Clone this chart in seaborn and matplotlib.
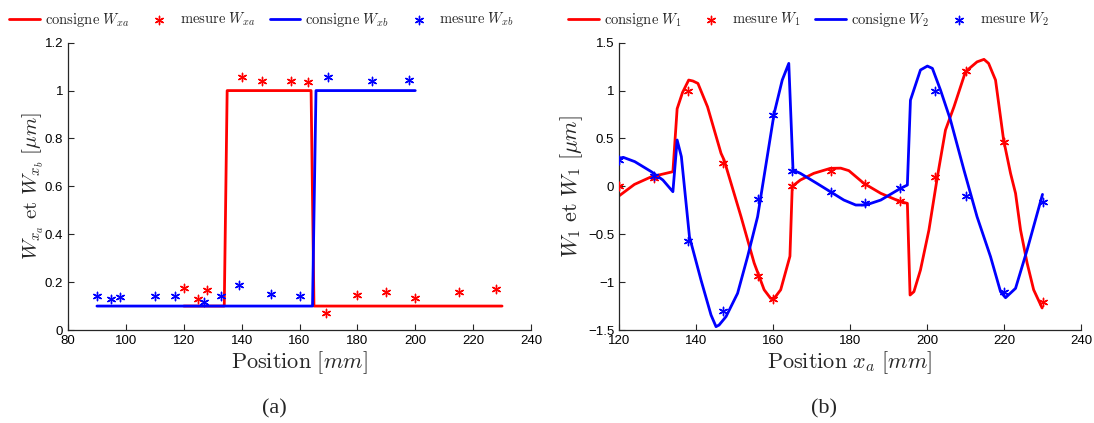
import matplotlib
matplotlib.use('Agg')
import matplotlib.pyplot as plt
import seaborn as sns
from matplotlib.ticker import FuncFormatter

# panel (a): step set-points and measures
xa_cons_x = [120, 134, 135, 164, 165, 230]
xa_cons_y = [0.1, 0.1, 1.0, 1.0, 0.1, 0.1]
xb_cons_x = [90, 164.5, 165.7, 200]
xb_cons_y = [0.1, 0.1, 1.0, 1.0]
xa_mes_x = [120, 125, 128, 140, 147, 157, 163, 169, 180, 190, 200, 215, 228]
xa_mes_y = [0.175, 0.13, 0.167, 1.055, 1.04, 1.04, 1.035, 0.07, 0.146, 0.157, 0.135, 0.157, 0.17]
xb_mes_x = [90, 95, 98, 110, 117, 127, 133, 139, 150, 160, 170, 185, 198]
xb_mes_y = [0.143, 0.128, 0.137, 0.143, 0.14, 0.115, 0.14, 0.187, 0.15, 0.143, 1.055, 1.04, 1.045]

# panel (b): W1 / W2 set-points and measures
w1_cons_x = [120, 124, 128.4, 134, 135.1, 136.5, 138.1, 139.2, 140.5, 143, 146.5, 147.3, 151.7,
             155.1, 157.7, 159.4, 160.3, 162, 164.4, 165, 167.1, 170.6, 174.9, 177.6, 179.7,
             183.6, 188, 193.1, 194.9, 195.6, 196.6, 198.3, 200.5, 202.7, 204.8, 207, 210,
             213, 214.8, 216, 217.8, 219.9, 221.7, 223, 224.3, 226, 227.7, 229.9]
w1_cons_y = [-0.1, 0.02, 0.1, 0.153, 0.81, 0.98, 1.11, 1.10, 1.075, 0.83, 0.345, 0.275, -0.317,
             -0.8, -1.08, -1.17, -1.17, -1.08, -0.73, 0.0, 0.066, 0.136, 0.188, 0.19, 0.164,
             0.031, -0.073, -0.16, -0.177, -1.135, -1.1, -0.874, -0.456, 0.1, 0.588, 0.83, 1.197,
             1.3, 1.326, 1.284, 1.11, 0.484, 0.136, -0.073, -0.456, -0.8, -1.08, -1.27]
w2_cons_x = [120, 121.1, 124.1, 128.4, 131.4, 134, 135.1, 136.2, 138.3, 141.3, 143.9, 145.2, 146,
             147.8, 150.8, 153.4, 156, 158.5, 160.3, 162.4, 164.1, 165.2, 167.1, 171.4, 174.9,
             178.4, 181.5, 184.1, 188, 192.7, 194.9, 195.7, 198.3, 200.1, 201.4, 203.5, 206.1,
             209.6, 213, 216.5, 219.1, 220.4, 223, 226, 230]
w2_cons_y = [0.292, 0.303, 0.258, 0.153, 0.066, -0.056, 0.484, 0.31, -0.526, -0.978, -1.343, -1.465,
             -1.448, -1.36, -1.117, -0.734, -0.317, 0.31, 0.762, 1.11, 1.284, 0.17, 0.136, 0.031,
             -0.056, -0.143, -0.195, -0.195, -0.143, -0.031, 0.014, 0.9, 1.215, 1.256, 1.232,
             1.006, 0.693, 0.17, -0.317, -0.734, -1.1, -1.163, -1.065, -0.665, -0.084]
w1_mes_x = [120, 129, 138, 147, 156, 160, 165, 175, 184, 193, 202, 210, 220, 230]
w1_mes_y = [0.0, 0.085, 1.0, 0.24, -0.936, -1.176, 0.007, 0.164, 0.024, -0.153, 0.1, 1.204, 0.466, -1.204]
w2_mes_x = [120, 129, 138, 147, 156, 160, 165, 175, 184, 193, 202, 210, 220, 230]
w2_mes_y = [0.275, 0.108, -0.571, -1.3, -0.136, 0.745, 0.164, -0.056, -0.178, -0.014, 1.0, -0.1, -1.107, -0.16]

sns.set_style('ticks')
plt.rcParams['font.family'] = ['Liberation Sans', 'DejaVu Sans']
plt.rcParams['mathtext.fontset'] = 'cm'
plt.rcParams['xtick.direction'] = 'in'
plt.rcParams['ytick.direction'] = 'in'

RED = '#ff0000'
BLUE = '#0000ff'
AST = (6, 2, 0)

fig = plt.figure(figsize=(10.94, 4.23), dpi=100)
ax1 = fig.add_axes([68 / 1094, 1 - 330 / 423, 463 / 1094, 287.3 / 423])
ax2 = fig.add_axes([619 / 1094, 1 - 330 / 423, 462 / 1094, 287.3 / 423])


def stars(ax, x, y, color, label):
    sns.scatterplot(x=x, y=y, ax=ax, marker=AST, s=36, color=color, edgecolor=color,
                    linewidth=1.0, label=label, zorder=3)


sns.lineplot(x=xa_cons_x, y=xa_cons_y, ax=ax1, color=RED, lw=2, sort=False,
             label=r'$\mathrm{consigne}\ W_{xa}$')
stars(ax1, xa_mes_x, xa_mes_y, RED, r'$\mathrm{mesure}\ W_{xa}$')
sns.lineplot(x=xb_cons_x, y=xb_cons_y, ax=ax1, color=BLUE, lw=2, sort=False,
             label=r'$\mathrm{consigne}\ W_{xb}$')
stars(ax1, xb_mes_x, xb_mes_y, BLUE, r'$\mathrm{mesure}\ W_{xb}$')

sns.lineplot(x=w1_cons_x, y=w1_cons_y, ax=ax2, color=RED, lw=2, sort=False,
             label=r'$\mathrm{consigne}\ W_1$')
stars(ax2, w1_mes_x, w1_mes_y, RED, r'$\mathrm{mesure}\ W_1$')
sns.lineplot(x=w2_cons_x, y=w2_cons_y, ax=ax2, color=BLUE, lw=2, sort=False,
             label=r'$\mathrm{consigne}\ W_2$')
stars(ax2, w2_mes_x, w2_mes_y, BLUE, r'$\mathrm{mesure}\ W_2$')

fmt = FuncFormatter(lambda v, p: ('%g' % round(v, 2)).replace('-', '\u2212'))

ax1.set_xlim(80, 240)
ax1.set_ylim(0, 1.2)
ax1.set_xticks(range(80, 241, 20))
ax1.set_yticks([0, 0.2, 0.4, 0.6, 0.8, 1.0, 1.2])
ax1.yaxis.set_major_formatter(fmt)
ax1.set_xlabel(r'$\mathrm{Position}\ [mm]$', fontsize=16, labelpad=2)
ax1.set_ylabel(r'$W_{x_a}\ \mathrm{et}\ W_{x_b}\ [\mu m]$', fontsize=15)
ax1.yaxis.set_label_coords(-0.047, 0.5)

ax2.set_xlim(120, 240)
ax2.set_ylim(-1.5, 1.5)
ax2.set_xticks(range(120, 241, 20))
ax2.set_yticks([-1.5, -1, -0.5, 0, 0.5, 1, 1.5])
ax2.yaxis.set_major_formatter(fmt)
ax2.set_xlabel(r'$\mathrm{Position}\ x_a\ [mm]$', fontsize=16, labelpad=2)
ax2.set_ylabel(r'$W_1\ \mathrm{et}\ W_1\ [\mu m]$', fontsize=16, labelpad=2)

for ax, lx in ((ax1, 9), (ax2, 568)):
    sns.despine(ax=ax)
    ax.tick_params(labelsize=9.5, length=4, width=0.8, colors='#262626')
    ax.tick_params(labelcolor='black')
    for s in ('left', 'bottom'):
        ax.spines[s].set_color('#262626')
        ax.spines[s].set_linewidth(0.9)
    ax.legend(loc='center left', bbox_to_anchor=(lx / 1094, 1 - 20 / 423),
              bbox_transform=fig.transFigure, ncol=4, frameon=False,
              fontsize=10.5, handlelength=2.1, columnspacing=1.0, handletextpad=0.35,
              borderaxespad=0.0, borderpad=0.0)

fig.text(274 / 1094, 1 - 409 / 423, '(a)', ha='center', va='center',
         family='Liberation Serif', fontsize=16)
fig.text(824 / 1094, 1 - 409 / 423, '(b)', ha='center', va='center',
         family='Liberation Serif', fontsize=16)

fig.savefig('out.png', dpi=100)
